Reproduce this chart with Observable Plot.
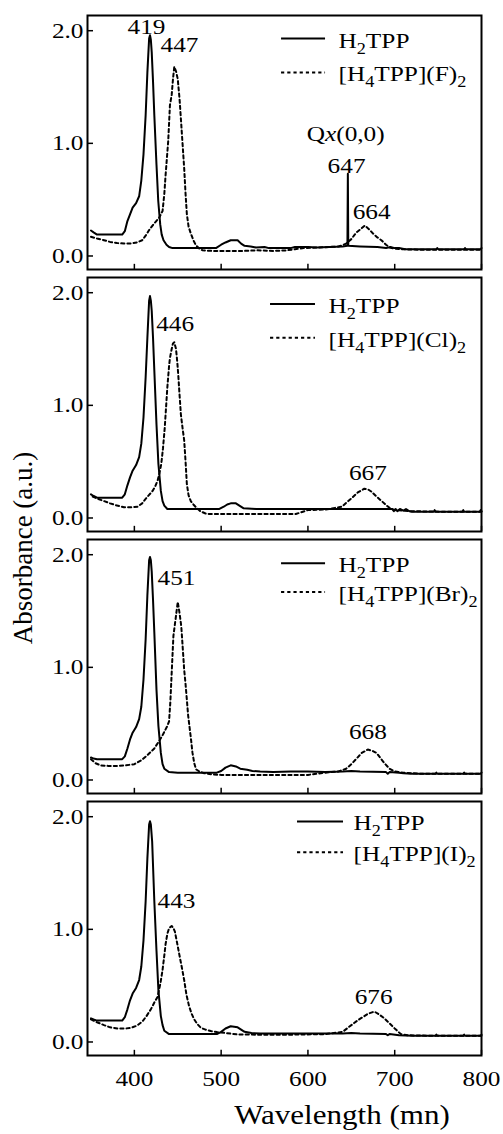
<!DOCTYPE html>
<html><head><meta charset="utf-8">
<script src="https://cdn.jsdelivr.net/npm/d3@7"></script>
<script src="https://cdn.jsdelivr.net/npm/@observablehq/plot@0.6"></script>
<style>body{margin:0;background:#fff;} #chart svg{display:block;}</style>
</head><body><div id="chart"></div>
<script>
// ---------- DATA ----------
const panels = ["F", "Cl", "Br", "I"];
const wavelengthTicks = [400, 500, 600, 700, 800];
const absorbanceTicks = [0, 1, 2];
const solidName = "H_2TPP";
const dashedNames = ["[H_4TPP](F)_2", "[H_4TPP](Cl)_2", "[H_4TPP](Br)_2", "[H_4TPP](I)_2"];

// H2TPP (solid) per panel: [wavelength nm, absorbance]
const solidF = [[350,0.226],[353,0.21],[357,0.19],[372,0.19],[386,0.19],[389,0.22],[392,0.31],[395,0.37],[398,0.43],[402,0.47],[405.5,0.53],[408,0.67],[410.5,0.90],[413,1.25],[415,1.63],[417,1.93],[418,1.96],[419,1.92],[420,1.81],[421.5,1.55],[423,1.25],[425.5,0.81],[427.5,0.49],[429.8,0.28],[431.5,0.19],[433.6,0.14],[437,0.10],[440,0.08],[444,0.07],[470,0.07],[494,0.07],[500,0.10],[505,0.12],[511,0.14],[519,0.14],[523,0.11],[527,0.09],[534,0.085],[540,0.075],[550,0.08],[555,0.07],[580,0.07],[585,0.08],[600,0.08],[610,0.075],[625,0.08],[640,0.085],[645.5,0.09],[646,0.73],[646.5,0.09],[660,0.085],[680,0.08],[690,0.07],[695,0.08],[700,0.07],[705,0.07],[712,0.06],[748,0.06],[749,0.07],[750,0.06],[780,0.06],[781,0.07],[782,0.06],[799,0.06],[800,0.07]];
const solidCl = [[350,0.21],[353,0.195],[357,0.18],[372,0.18],[386,0.18],[389,0.21],[392,0.29],[395,0.36],[398,0.42],[402,0.47],[405.5,0.54],[408,0.66],[410.5,0.89],[413,1.25],[415,1.60],[417,1.93],[418,1.97],[419,1.93],[420,1.84],[421.5,1.6],[423,1.31],[425.5,0.83],[427.7,0.48],[430.5,0.24],[432.5,0.15],[434.5,0.11],[438,0.08],[460,0.08],[498,0.08],[503,0.10],[507,0.12],[511,0.13],[517,0.13],[521,0.11],[526,0.086],[540,0.08],[600,0.08],[640,0.08],[680,0.08],[697,0.08],[699,0.06],[701,0.08],[703,0.06],[706,0.08],[710,0.065],[713,0.08],[717,0.06],[720,0.055],[745,0.055],[746,0.07],[747,0.055],[778,0.055],[779,0.07],[780,0.055],[798,0.055],[799,0.07],[800,0.06]];
const solidBr = [[350,0.20],[353,0.19],[357,0.185],[372,0.185],[386,0.185],[389,0.21],[392,0.28],[395,0.36],[398,0.42],[402,0.47],[405.5,0.54],[408,0.65],[410.5,0.89],[413,1.25],[415,1.64],[417,1.95],[418,1.98],[419,1.95],[420,1.85],[421.5,1.6],[423,1.31],[425.5,0.80],[427.7,0.48],[430.5,0.24],[432.5,0.14],[434.5,0.10],[440,0.07],[450,0.065],[495,0.065],[500,0.08],[505,0.11],[511,0.13],[517,0.12],[522,0.10],[530,0.09],[536,0.08],[545,0.075],[560,0.07],[580,0.075],[600,0.075],[620,0.07],[640,0.075],[650,0.08],[660,0.075],[690,0.07],[692,0.055],[694,0.07],[705,0.065],[710,0.06],[720,0.055],[747,0.055],[748,0.065],[749,0.055],[779,0.055],[780,0.065],[781,0.055],[799,0.055],[800,0.065]];
const solidI = [[350,0.21],[353,0.20],[357,0.19],[372,0.19],[386,0.19],[389,0.22],[392,0.29],[395,0.37],[398,0.43],[402,0.48],[405.5,0.55],[408,0.67],[410.5,0.90],[413,1.25],[415,1.63],[417,1.93],[418,1.96],[419,1.93],[420.5,1.78],[423,1.25],[425.5,0.81],[427.7,0.46],[430.5,0.23],[432.5,0.15],[434.5,0.10],[440,0.07],[495,0.07],[500,0.09],[505,0.12],[511,0.14],[519,0.13],[523,0.11],[527,0.09],[535,0.08],[545,0.075],[600,0.075],[640,0.075],[650,0.08],[660,0.075],[690,0.07],[692,0.06],[694,0.07],[705,0.06],[720,0.055],[747,0.055],[748,0.065],[749,0.055],[779,0.055],[780,0.065],[781,0.055],[799,0.055],[800,0.065]];

// [H4TPP](X)2 (dashed) per panel
const dashedF = [[350,0.17],[357,0.155],[365,0.14],[372,0.125],[380,0.115],[388,0.11],[396,0.11],[403,0.12],[409,0.14],[413,0.18],[417,0.23],[420,0.26],[423,0.29],[428.6,0.34],[432.5,0.40],[434.5,0.55],[436,0.72],[437.5,0.87],[439,1.02],[441,1.34],[443,1.43],[444.5,1.57],[446,1.68],[448,1.64],[450,1.57],[452,1.40],[453.6,1.22],[455.5,1.0],[457.4,0.78],[459,0.55],[460.5,0.37],[462.5,0.26],[465,0.20],[468,0.14],[471,0.094],[475,0.065],[478.6,0.05],[492,0.044],[507,0.044],[523,0.044],[542,0.05],[560,0.045],[575,0.05],[585,0.06],[595,0.07],[610,0.075],[625,0.08],[635,0.085],[640,0.095],[644,0.11],[650,0.15],[656,0.21],[661,0.24],[665.5,0.27],[670,0.24],[675,0.2],[680,0.165],[684.6,0.14],[690,0.10],[694,0.075],[700,0.065],[710,0.06],[730,0.055],[760,0.055],[800,0.055]];
const dashedCl = [[352,0.19],[358,0.17],[365,0.15],[372,0.13],[380,0.11],[388,0.095],[396,0.095],[403.6,0.10],[409,0.13],[413,0.17],[417,0.205],[421,0.24],[424,0.28],[426.7,0.33],[429,0.40],[431,0.48],[433,0.62],[435,0.80],[436.5,0.98],[438,1.16],[440,1.35],[441,1.42],[443,1.50],[444.5,1.55],[446,1.56],[448,1.50],[449.5,1.38],[450.5,1.28],[452,1.10],[453.6,0.92],[455.5,0.80],[457.4,0.69],[459,0.50],[460.5,0.30],[462.5,0.20],[465,0.15],[468,0.12],[471,0.095],[476,0.06],[482,0.04],[486,0.035],[520,0.035],[560,0.035],[586,0.035],[600,0.07],[620,0.075],[639,0.10],[645,0.14],[651,0.18],[658,0.23],[665,0.26],[669,0.255],[673,0.235],[679,0.19],[685,0.15],[690,0.115],[694,0.09],[700,0.07],[720,0.06],[760,0.055],[800,0.055]];
const dashedBr = [[350,0.185],[355,0.15],[361,0.13],[370,0.125],[380,0.125],[390,0.13],[400,0.14],[409,0.18],[415,0.22],[419,0.25],[423,0.28],[428,0.34],[432,0.39],[434,0.42],[438,0.48],[440,0.52],[441.5,0.7],[443,0.95],[445,1.28],[448,1.46],[450,1.58],[451.7,1.50],[454,1.37],[455.5,1.2],[457.4,0.98],[459,0.85],[462,0.57],[465,0.38],[467,0.24],[469,0.15],[471,0.095],[475,0.075],[480.5,0.06],[490,0.05],[500,0.045],[560,0.045],[600,0.045],[620,0.065],[635,0.075],[644,0.10],[650,0.14],[656,0.19],[662,0.24],[669,0.27],[674,0.26],[679,0.24],[683,0.2],[688,0.15],[694,0.10],[700,0.075],[710,0.065],[730,0.055],[800,0.055]];
const dashedI = [[350,0.20],[357,0.175],[365,0.15],[372,0.13],[380.6,0.12],[390,0.12],[396,0.125],[403,0.145],[409,0.18],[414,0.23],[419,0.29],[423,0.35],[426.7,0.40],[430,0.52],[432.5,0.64],[435,0.80],[436,0.87],[438,0.96],[440,1.01],[443,1.03],[445,1.01],[446.7,0.98],[449,0.89],[451.7,0.78],[454.5,0.67],[457.4,0.55],[460,0.42],[463,0.32],[466,0.25],[469,0.20],[472.5,0.16],[476.6,0.126],[482,0.11],[488,0.097],[495,0.088],[505,0.08],[519,0.067],[540,0.065],[580,0.065],[620,0.07],[640,0.09],[645,0.12],[651,0.155],[657,0.19],[663,0.22],[669,0.25],[676.6,0.27],[682,0.245],[688,0.21],[694,0.165],[700,0.12],[707,0.07],[715,0.06],[740,0.055],[800,0.055]];

// Peak annotations: panel, wavelength, absorbance where the label sits, text
const peakPanel = ["F","F","F","F","F","Cl","Cl","Br","Br","I","I"];
const peakAt = [414, 452, 643.5, 644.5, 673.4, 447, 669, 448.6, 669, 448.6, 675.7];
const peakLevel = [2.035, 1.877, 1.08, 0.80, 0.39, 1.72, 0.40, 1.79, 0.43, 1.25, 0.40];
const peakText = ["419", "447", "Q*x*(0,0)", "647", "664", "446", "667", "451", "668", "443", "676"];

// Legend placement per panel (data units): sample start/end, text start, solid row, dashed row
const legendX0 = [569.6, 556.9, 569.6, 588];
const legendX1 = [620.3, 608.7, 620.3, 641];
const legendXt = [635.2, 623.7, 635.2, 652.5];
const legendYSolid = [1.93, 1.90, 1.925, 1.958];
const legendYDash = [1.63, 1.60, 1.67, 1.684];

// ---------- BUILD ----------
const toRows = (arr, panel) => arr.map(([nm, a]) => ({nm, a, panel}));
const solidRows = [solidF, solidCl, solidBr, solidI].flatMap((s, i) => toRows(s, panels[i]));
const dashedRows = [dashedF, dashedCl, dashedBr, dashedI].flatMap((s, i) => toRows(s, panels[i]));
const peaks = peakText.map((t, i) => ({panel: peakPanel[i], nm: peakAt[i], a: peakLevel[i], text: t}));
const legend = panels.map((p, i) => ({panel: p, x0: legendX0[i], x1: legendX1[i], xt: legendXt[i], ys: legendYSolid[i], yd: legendYDash[i], name: dashedNames[i]}));

const W = 503, H = 1134, mL = 87, mR = 22, mT = 14, mB = 77, padIn = 0.03;
const innerW = W - mL - mR;
const step = (H - mT - mB) / (panels.length - padIn);
const bandH = step * (1 - padIn);
const FONT = "'Liberation Serif', 'Times New Roman', serif";

const chart = Plot.plot({
  width: W, height: H,
  marginLeft: mL, marginRight: mR, marginTop: mT, marginBottom: mB,
  x: {domain: [346, 800]},
  y: {domain: [-0.12, 2.135]},
  fy: {domain: panels, paddingInner: padIn, paddingOuter: 0, axis: null, label: null},
  style: {fontFamily: FONT, fontSize: "22px", color: "black", background: "white"},
  marks: [
    Plot.line(solidRows, {x: "nm", y: "a", fy: "panel", stroke: "black", strokeWidth: 2, curve: "linear"}),
    Plot.line(dashedRows, {x: "nm", y: "a", fy: "panel", stroke: "black", strokeWidth: 2, strokeDasharray: "3.2,3"}),
    Plot.frame({stroke: "black", strokeWidth: 2}),
    Plot.tickX(wavelengthTicks, {x: d => d, insetTop: bandH - 6, stroke: "black", strokeWidth: 1.5}),
    Plot.tickY(absorbanceTicks, {y: d => d, insetRight: innerW - 6, stroke: "black", strokeWidth: 1.5}),
    Plot.axisY({ticks: absorbanceTicks, tickSize: 0, tickPadding: 4, tickFormat: d3.format(".1f"), label: null, fontSize: 22}),
    Plot.axisX({ticks: wavelengthTicks, tickSize: 0, tickPadding: 15, label: null, fontSize: 22}),
    Plot.ruleY(legend, {fy: "panel", x1: "x0", x2: "x1", y: "ys", stroke: "black", strokeWidth: 2}),
    Plot.ruleY(legend, {fy: "panel", x1: "x0", x2: "x1", y: "yd", stroke: "black", strokeWidth: 2, strokeDasharray: "3.2,3"}),
    Plot.text(legend, {fy: "panel", x: "xt", y: "ys", text: () => solidName, textAnchor: "start", fontSize: 22, dy: 2}),
    Plot.text(legend, {fy: "panel", x: "xt", y: "yd", text: "name", textAnchor: "start", fontSize: 22, dy: 2}),
    Plot.text(peaks, {fy: "panel", x: "nm", y: "a", text: "text", fontSize: 22})
  ]
});

const NS = "http://www.w3.org/2000/svg";
const svg = d3.select(chart);
svg.append("text")
  .attr("class", "ytitle")
  .attr("transform", "translate(23,548) rotate(-90)")
  .attr("text-anchor", "middle").attr("dominant-baseline", "central")
  .attr("font-family", FONT).attr("font-size", 27).attr("fill", "black")
  .text("Absorbance (a.u.)");
svg.append("text")
  .attr("x", 342).attr("y", 1124)
  .attr("text-anchor", "middle")
  .attr("font-family", FONT).attr("font-size", 27).attr("fill", "black")
  .text("Wavelength (mn)");

document.getElementById("chart").appendChild(chart);

// rich text: _d => subscript digit, *x* => italic
chart.querySelectorAll("text").forEach(t => {
  if (t.querySelector("tspan")) return;
  const s = t.textContent;
  if (!/[_*]/.test(s)) return;
  const parts = s.split(/(_\d|\*[^*]+\*)/).filter(p => p);
  t.textContent = "";
  for (const p of parts) {
    const ts = document.createElementNS(NS, "tspan");
    if (p[0] === "_") {
      ts.textContent = p.slice(1);
      ts.setAttribute("font-size", "0.72em");
      ts.setAttribute("baseline-shift", "-0.35em");
    } else if (p[0] === "*") {
      ts.textContent = p.slice(1, -1);
      ts.setAttribute("font-style", "italic");
    } else {
      ts.textContent = p;
    }
    t.appendChild(ts);
  }
});

// horizontal stretch of glyphs (reference type is wide)
chart.querySelectorAll("text").forEach(t => {
  if (t.classList.contains("ytitle")) return;
  const L = t.getComputedTextLength();
  if (L > 0) {
    t.setAttribute("textLength", (L * 1.15).toFixed(1));
    t.setAttribute("lengthAdjust", "spacingAndGlyphs");
  }
});
</script>
</body></html>
